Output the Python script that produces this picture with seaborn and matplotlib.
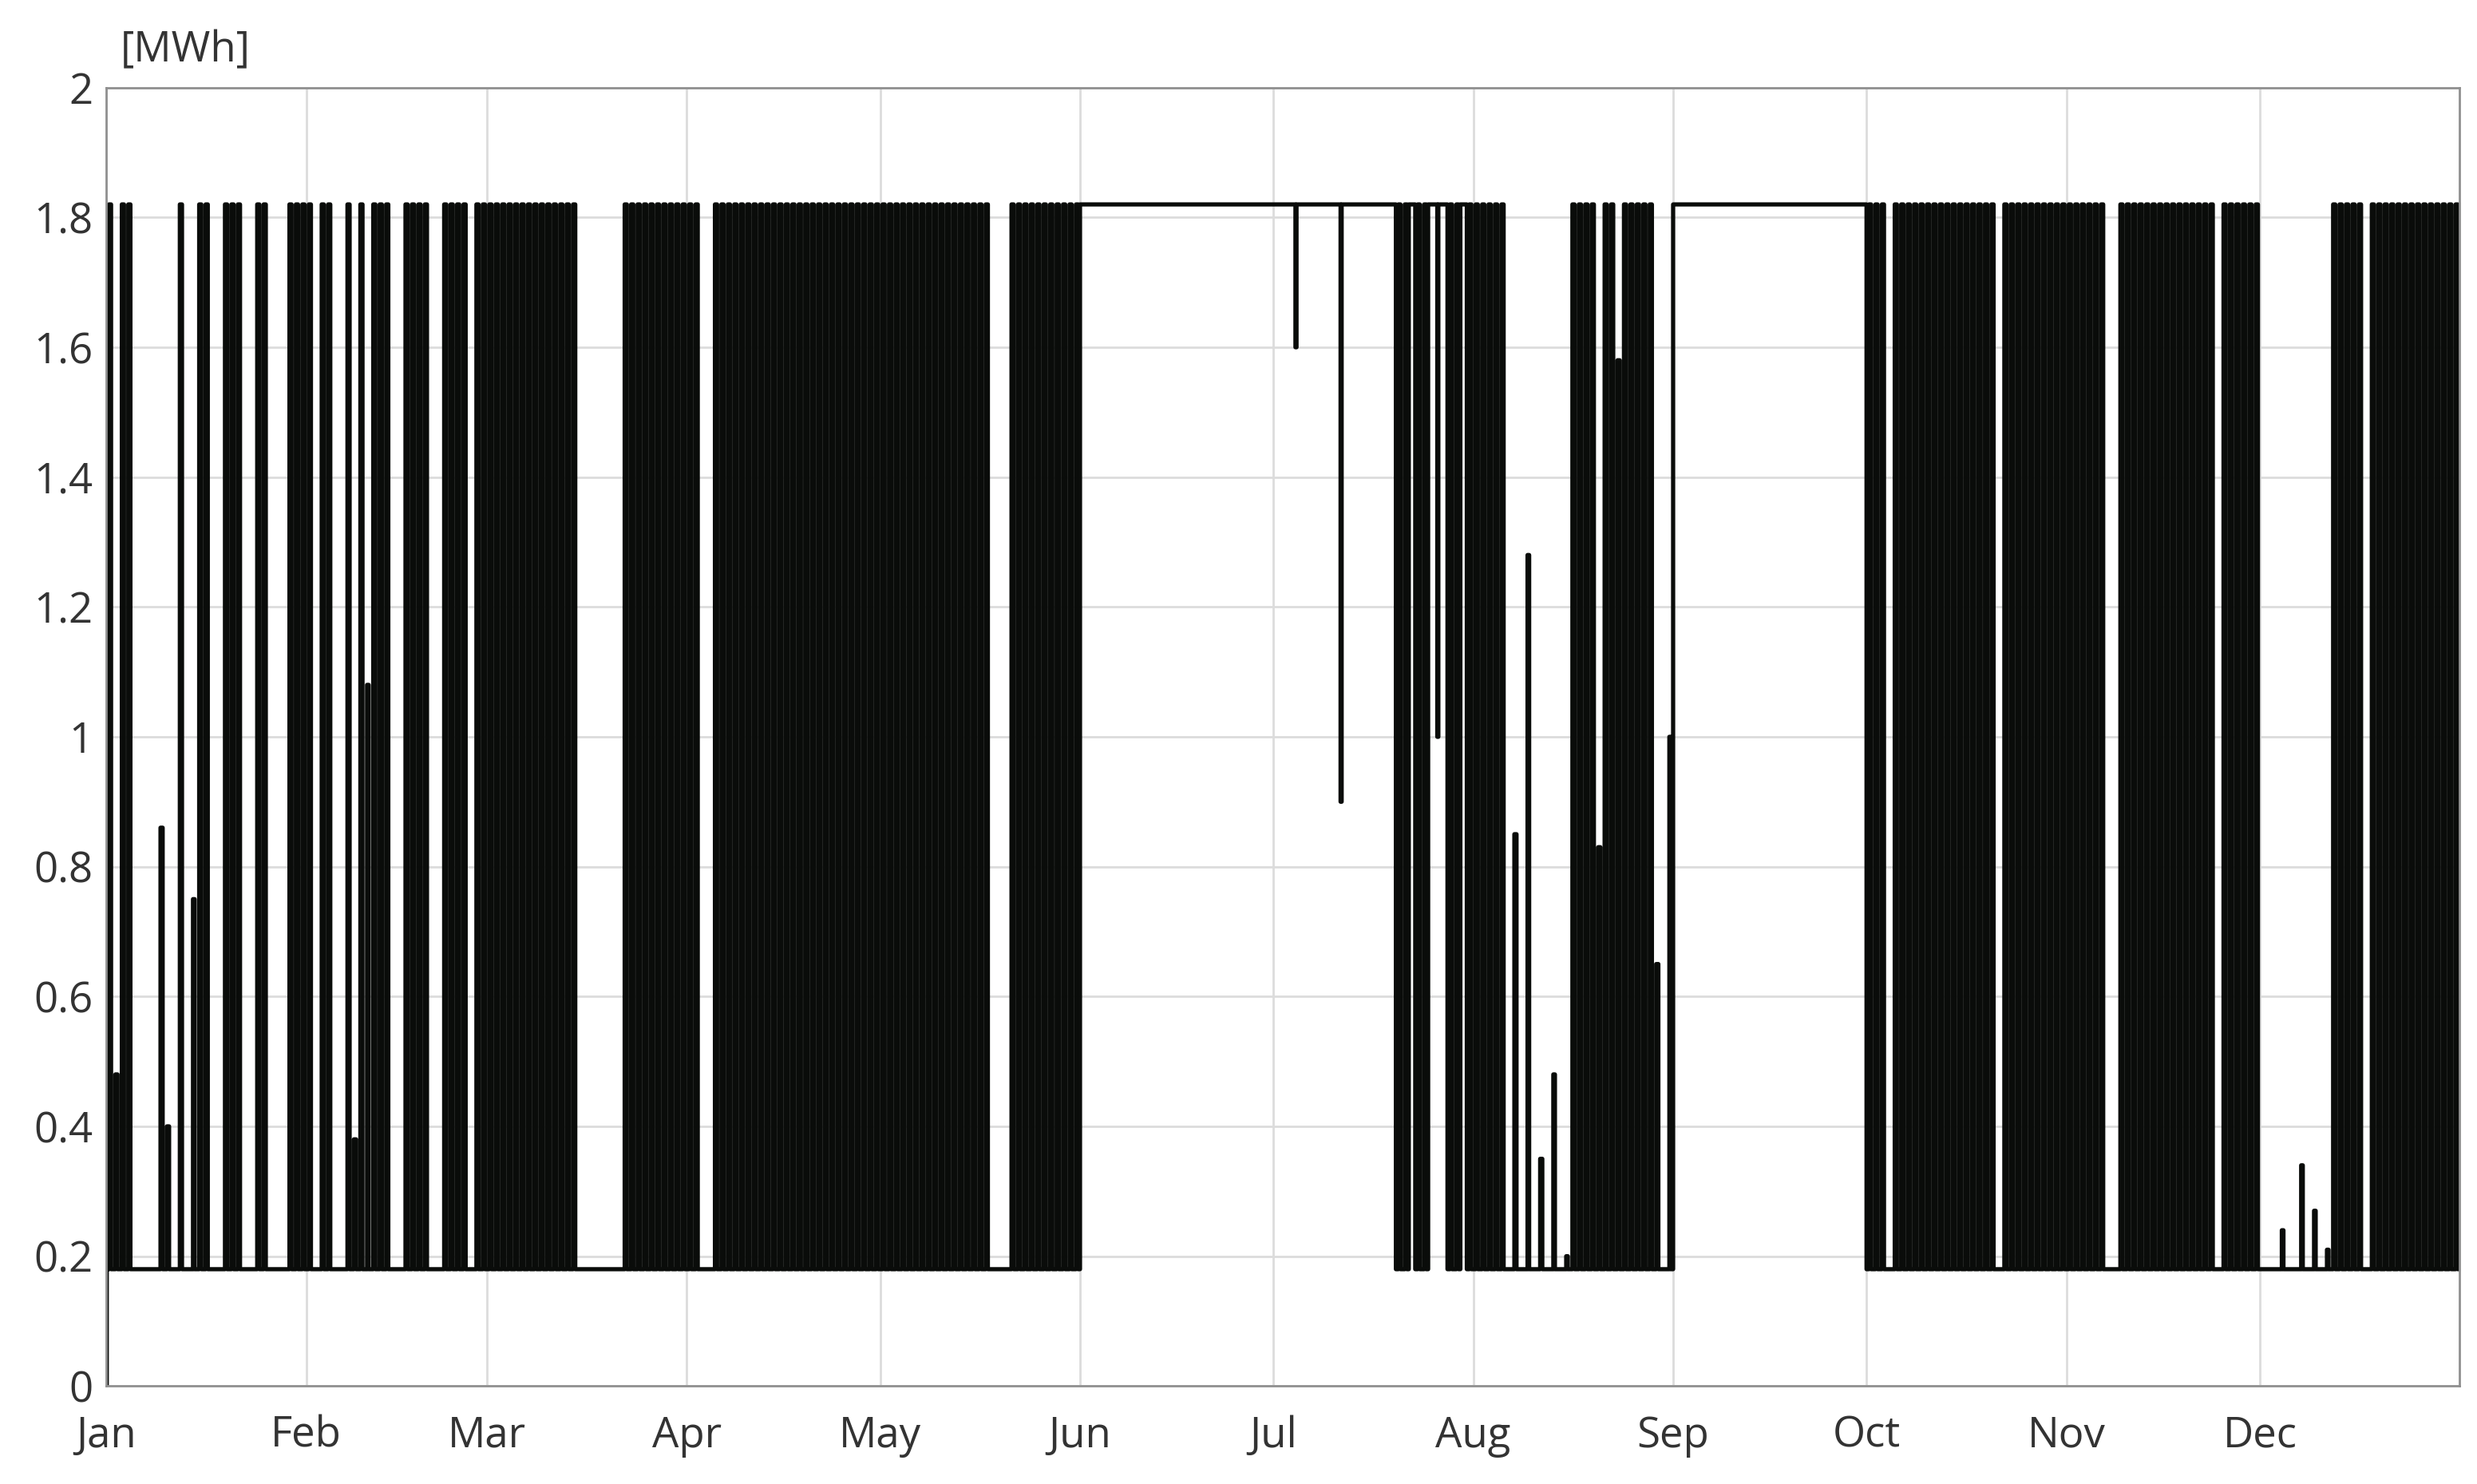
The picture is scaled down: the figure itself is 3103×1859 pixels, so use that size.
import numpy as np
import pandas as pd
import matplotlib
matplotlib.use("Agg")
import matplotlib.pyplot as plt
import seaborn as sns

LOW, HIGH = 0.18, 1.82
months = ["Jan","Feb","Mar","Apr","May","Jun","Jul","Aug","Sep","Oct","Nov","Dec"]
# day codes: C = daily charge/discharge cycle, L = held low, H = held full
day_codes = [
    "CCCCLLLLCCLCLLCCLLCCCLLCCLLLCCC",   # Jan
    "CLCCLLCCCLCCCLLCCCCLLCCCCLCC",      # Feb
    "CCCCCCCCCCCCCCLLLLLLLCCCCCCCCCC",   # Mar
    "CCLLCCCCCCCCCCCCCCCCCCCCCCCCCC",    # Apr
    "CCCCCCCCCCCCCCCCCLLLCCCCCCCCCCC",   # May
    "HHHHHHHHHHHHHHHHHHHHHHHHHHHHHH",    # Jun
    "HHHHHHHHHHHHHHHHHHHCCHCCHHHCCHC",   # Jul
    "CCCCCLCLLLCLLLLCCCCCCCCCCCCCCLL",   # Aug
    "HHHHHHHHHHHHHHHHHHHHHHHHHHHHHH",    # Sep
    "CCCLCCCCCCCCCCCCCCCCLCCCCCCCCCC",   # Oct
    "CCCCCCLLCCCCCCCCCCCCCCCLCCCCCC",    # Nov
    "LLLLLLLLLLLCCCCCLCCCCCCCCCCCCCC",   # Dec
]
# days whose peak / dip differs from the full level (day-of-year: value)
partial_peaks = {1: 0.48, 8: 0.86, 9: 0.4, 13: 0.75, 38: 0.38, 40: 1.08,
                 218: 0.85, 220: 1.28, 222: 0.35, 224: 0.48, 226: 0.2,
                 231: 0.83, 234: 1.58, 240: 0.65, 242: 1.0,
                 337: 0.24, 340: 0.34, 342: 0.27, 344: 0.21}
dips = {184: 1.6, 191: 0.9, 203: 0.5, 214: 0.9, 206: 1.0}

codes = "".join(day_codes)
vals = []
for d, c in enumerate(codes):
    if c == "H":
        day = [HIGH] * 24
        if d in dips:
            day[10:14] = [dips[d]] * 4
    elif c == "L":
        day = [LOW] * 24
        if d in partial_peaks:
            day[10:16] = [partial_peaks[d]] * 6
    else:
        pk = partial_peaks.get(d, HIGH)
        day = [LOW] * 9 + [pk] * 8 + [LOW] * 7
    vals += day
vals[0] = 0.0
df = pd.DataFrame({"hour": np.arange(len(vals)), "energy": vals})

sns.set_theme(style="white")
plt.rcParams['font.family'] = ['Open Sans', 'DejaVu Sans']
fig = plt.figure(figsize=(31.03, 18.59), dpi=100)
ax = fig.add_axes([0.043, 0.066, 0.950, 0.875])
sns.lineplot(data=df, x="hour", y="energy", ax=ax, color="#0a0c0a",
             linewidth=3.8, drawstyle="steps-post", estimator=None)
month_starts = np.cumsum([0] + [len(s) for s in day_codes[:-1]]) * 24
ax.set_xticks(month_starts)
ax.set_xticklabels(months, ha="center")
ax.set_xlim(0, len(vals))
ax.set_ylim(0, 2)
yt = np.round(np.arange(0, 2.01, 0.2), 1)
ax.set_yticks(yt)
ax.set_yticklabels([("%g" % v) for v in yt])
ax.grid(True, color="#dcdcdc", linewidth=2)
ax.set_axisbelow(True)
for s in ax.spines.values():
    s.set_color("#909090"); s.set_linewidth(2)
ax.tick_params(axis="both", labelsize=38, colors="#333333", length=0, pad=12)
ax.tick_params(axis="x", pad=26)
ax.set_xlabel(""); ax.set_ylabel("")
ax.text(0.006, 1.012, "[MWh]", transform=ax.transAxes, fontsize=38, color="#333333",
        ha="left", va="bottom")
fig.savefig("out.png", dpi=100)
